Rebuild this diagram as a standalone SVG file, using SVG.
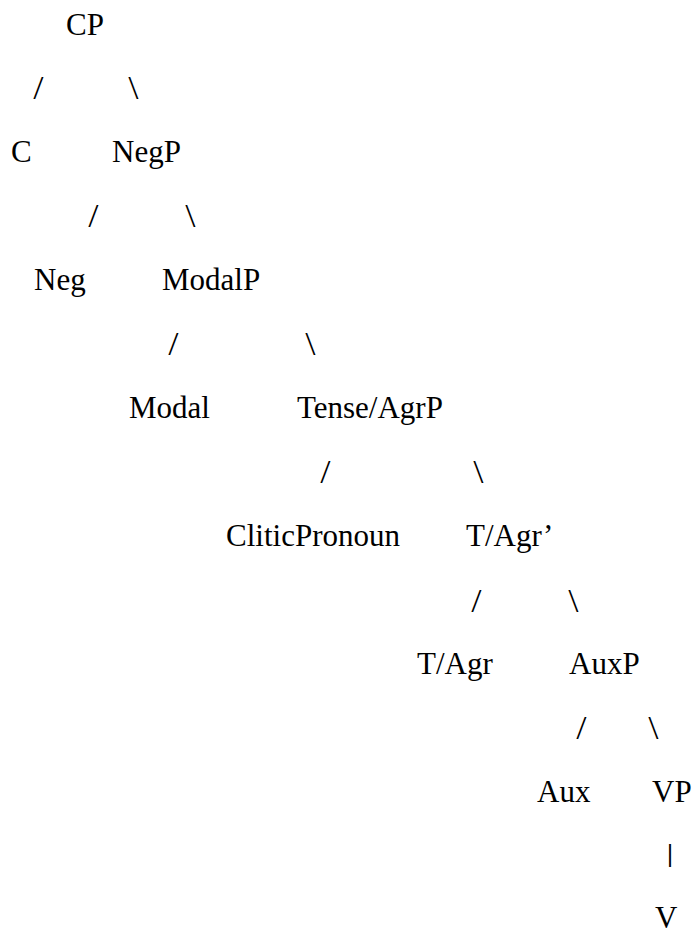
<svg xmlns="http://www.w3.org/2000/svg" width="692" height="930" viewBox="0 0 692 930">
<style>
.n{font-family:"Liberation Serif","Times New Roman",serif;font-size:31px;fill:#000}
.e{font-family:"Noto Sans","Liberation Sans",sans-serif;font-weight:300;font-size:31px;fill:#000}
.b{font-family:"Liberation Sans",Arial,sans-serif;font-size:23px;fill:#000}
</style>
<rect width="692" height="930" fill="#fff"/>
<g id="connectors">
<text class="e" x="33" y="99">/</text>
<text class="e" x="128" y="99">\</text>
<text class="e" x="88" y="227">/</text>
<text class="e" x="185" y="227">\</text>
<text class="e" x="168" y="355">/</text>
<text class="e" x="305" y="355">\</text>
<text class="e" x="320" y="483">/</text>
<text class="e" x="473" y="483">\</text>
<text class="e" x="471" y="612">/</text>
<text class="e" x="568" y="612">\</text>
<text class="e" x="576" y="739">/</text>
<text class="e" x="648" y="739">\</text>
<text class="b" x="667" y="862">|</text>
</g>
<g id="CP"><text class="n" x="66" y="35">CP</text></g>
<g id="C"><text class="n" x="11" y="162">C</text></g>
<g id="NegP"><text class="n" x="112" y="162">NegP</text></g>
<g id="Neg"><text class="n" x="34" y="290">Neg</text></g>
<g id="ModalP"><text class="n" x="162" y="290">ModalP</text></g>
<g id="Modal"><text class="n" x="129" y="418">Modal</text></g>
<g id="TenseAgrP"><text class="n" x="297" y="418">Tense/AgrP</text></g>
<g id="CliticPronoun"><text class="n" x="226" y="546">CliticPronoun</text></g>
<g id="TAgrBar"><text class="n" x="466" y="546">T/Agr’</text></g>
<g id="TAgr"><text class="n" x="417" y="674">T/Agr</text></g>
<g id="AuxP"><text class="n" x="569" y="674">AuxP</text></g>
<g id="Aux"><text class="n" x="537" y="802">Aux</text></g>
<g id="VP"><text class="n" x="652" y="802">VP</text></g>
<g id="V"><text class="n" x="655" y="928">V</text></g>
</svg>
